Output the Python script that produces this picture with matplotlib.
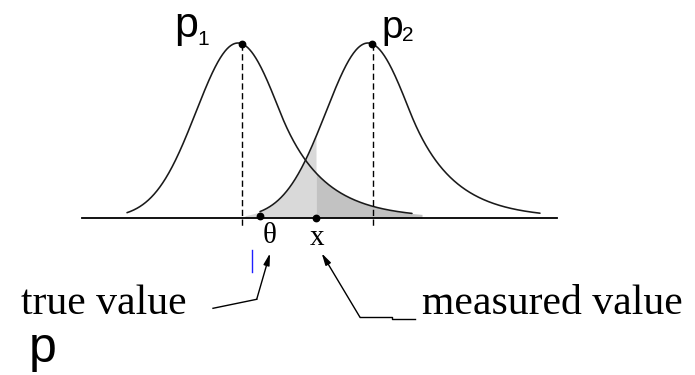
import numpy as np
import matplotlib
matplotlib.use("Agg")
import matplotlib.pyplot as plt

# ---- data (diagram units ~ pixels, baseline at y=0) ----
curve_names = ["p", "p"]
curve_subs = ["1", "2"]
curve_means = [238.0, 368.0]        # location of each density maximum
curve_sigma = [42.0, 42.0]          # gaussian core width
curve_tail_k = [1.0, 1.0]           # right exponential tail starts at k*sigma
curve_peak = [175.0, 175.0]         # height of each density
curve_xmin = [127.0, 260.0]
curve_xmax = [412.0, 540.0]
peak_marks = [242.0, 372.0]         # x of the marked points near the peaks
theta_value = 260.0                 # true value
measured_value = 316.0              # measured value
axis_range = [82.0, 557.0]

BASE_Y = 218.0  # pixel row of baseline
SANS = ["Liberation Sans", "DejaVu Sans"]
SERIF = ["Liberation Serif", "DejaVu Serif"]


def density(x, mu, sigma, k, h):
    d = np.asarray(x, dtype=float) - mu
    core = np.exp(-d ** 2 / (2 * sigma ** 2))
    tail = np.exp(k ** 2 / 2 - k * d / sigma)
    return h * np.where(d <= k * sigma, core, tail)


def P(i, x):
    return density(x, curve_means[i], curve_sigma[i], curve_tail_k[i], curve_peak[i])


def py(pix):  # pixel row -> data y
    return BASE_Y - pix


fig = plt.figure(figsize=(6.95, 3.75), dpi=100)
ax = fig.add_axes([0, 0, 1, 1])
ax.set_xlim(0, 695)
ax.set_ylim(BASE_Y - 375, BASE_Y)
ax.axis("off")

# shaded areas
xl = np.linspace(245, measured_value, 200)
ax.fill_between(xl, 0, P(1, xl), color="#d9d9d9", lw=0, zorder=1)
xd = np.linspace(measured_value, 422, 200)
ax.fill_between(xd, 0, P(0, xd), color="#c2c2c2", lw=0, zorder=1)

# curves
for i in range(2):
    xs = np.linspace(curve_xmin[i], curve_xmax[i], 600)
    ax.plot(xs, P(i, xs), color="#1a1a1a", lw=1.15, zorder=3, solid_capstyle="round")

# baseline
ax.plot(axis_range, [0, 0], color="black", lw=1.3, zorder=4)

# dashed verticals from peaks
dash_x = [peak_marks[0], peak_marks[1] + 1]
for i in range(2):
    ax.plot([dash_x[i], dash_x[i]], [P(i, dash_x[i]), py(226)], color="black",
            lw=1.0, ls=(0, (4.5, 2.5)), zorder=4)

# dots
for i in range(2):
    ax.plot(peak_marks[i], P(i, peak_marks[i]), "o", color="black", ms=4.6, zorder=5)
ax.plot([theta_value, measured_value], [py(216), 0], "o", color="black", ms=4.6, zorder=5)

# labels p1, p2
ax.text(174, py(37), curve_names[0], fontsize=31, family=SANS, ha="left", va="baseline")
ax.text(197, py(45), curve_subs[0], fontsize=15, family=SANS, ha="left", va="baseline")
ax.text(381, py(38), curve_names[1], fontsize=28, family=SANS, ha="left", va="baseline")
ax.text(402, py(41), curve_subs[1], fontsize=15, family=SANS, ha="left", va="baseline")

ax.text(270, py(243), "θ", fontsize=21, family=SERIF, ha="center", va="baseline")
ax.text(317.5, py(245), "x", fontsize=21, family=SERIF, ha="center", va="baseline")
ax.text(21, py(314), "true value", fontsize=30, family=SERIF, ha="left", va="baseline")
ax.text(422, py(314), "measured value", fontsize=30, family=SERIF, ha="left", va="baseline")
ax.text(29, py(362), "p", fontsize=36, family=SANS, ha="left", va="baseline")

# blue cursor tick
ax.plot([252, 252], [py(250), py(272)], color="#1f1fff", lw=1.0)

# arrows
ax.plot([213, 256.7], [py(308.3), py(299.3)], color="black", lw=1.0)
ax.annotate("", xy=(270, py(253.3)), xytext=(256.7, py(299.3)),
            arrowprops=dict(arrowstyle="-|>,head_length=0.7,head_width=0.18",
                            color="black", lw=1.0, shrinkA=0, shrinkB=0))
ax.plot([415, 392, 392, 360], [py(318.7), py(318.7), py(317.3), py(317.3)], color="black", lw=1.0)
ax.annotate("", xy=(321.7, py(253.3)), xytext=(360, py(317.3)),
            arrowprops=dict(arrowstyle="-|>,head_length=0.7,head_width=0.18",
                            color="black", lw=1.0, shrinkA=0, shrinkB=0))

fig.savefig("out.png", dpi=100)
